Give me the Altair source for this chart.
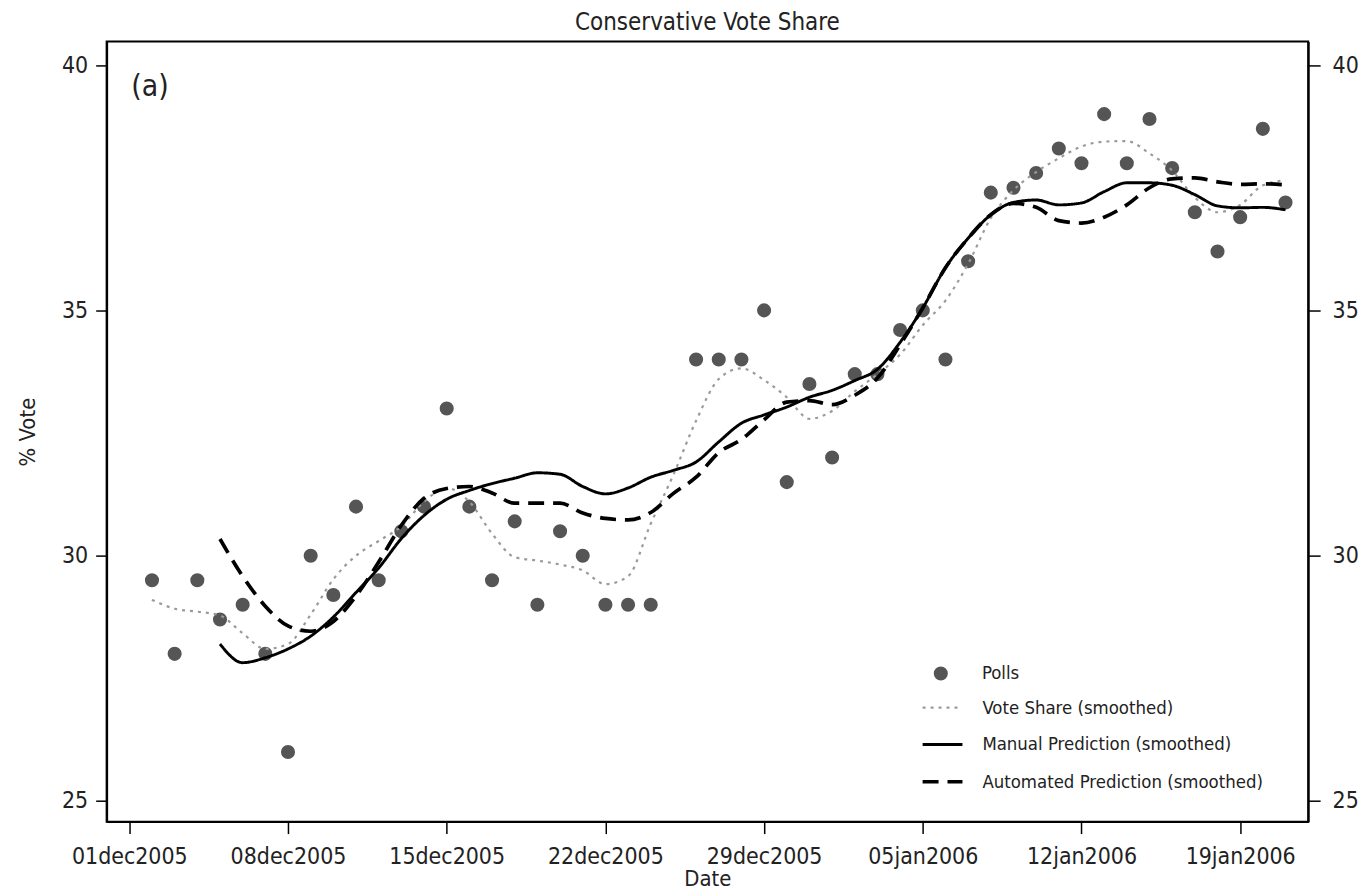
import altair as alt
import pandas as pd

FONT = "'DejaVu Sans Condensed', 'Liberation Sans Narrow', 'DejaVu Sans', sans-serif"

S_POLL = "Polls"
S_VS = "Vote Share (smoothed)"
S_MAN = "Manual Prediction (smoothed)"
S_AUTO = "Automated Prediction (smoothed)"
LINE_SERIES = [S_VS, S_MAN, S_AUTO]
LINE_COLORS = ["#9a9a9a", "#000000", "#000000"]
LINE_DASHES = [[3, 5], [1, 0], [16, 9]]
LINE_WIDTHS = [2.2, 3.7, 3.7]
POLL_COLOR = "#555555"

# Poll points
poll_dates = [
    "2005-12-02", "2005-12-03", "2005-12-04", "2005-12-05", "2005-12-06", "2005-12-07",
    "2005-12-08", "2005-12-09", "2005-12-10", "2005-12-11", "2005-12-12", "2005-12-13",
    "2005-12-14", "2005-12-15", "2005-12-16", "2005-12-17", "2005-12-18", "2005-12-19",
    "2005-12-20", "2005-12-21", "2005-12-22", "2005-12-23", "2005-12-24",
    "2005-12-26", "2005-12-27", "2005-12-28", "2005-12-29", "2005-12-30", "2005-12-31",
    "2006-01-01", "2006-01-02", "2006-01-03", "2006-01-04", "2006-01-05", "2006-01-06",
    "2006-01-07", "2006-01-08", "2006-01-09", "2006-01-10", "2006-01-11", "2006-01-12",
    "2006-01-13", "2006-01-14", "2006-01-15", "2006-01-16", "2006-01-17", "2006-01-18",
    "2006-01-19", "2006-01-20", "2006-01-21",
]
poll_values = [
    29.5, 28.0, 29.5, 28.7, 29.0, 28.0,
    26.0, 30.0, 29.2, 31.0, 29.5, 30.5,
    31.0, 33.0, 31.0, 29.5, 30.7, 29.0,
    30.5, 30.0, 29.0, 29.0, 29.0,
    34.0, 34.0, 34.0, 35.0, 31.5, 33.5,
    32.0, 33.7, 33.7, 34.6, 35.0, 34.0,
    36.0, 37.4, 37.5, 37.8, 38.3, 38.0,
    39.0, 38.0, 38.9, 37.9, 37.0, 36.2,
    36.9, 38.7, 37.2,
]

# Smoothed series, sampled daily (days after 01dec2005)
vs_day_offsets = list(range(1, 52))
vote_share = [
    29.10, 28.92, 28.86, 28.78, 28.42, 28.10, 28.20, 28.80, 29.52, 30.00,
    30.30, 30.60, 31.10, 31.38, 31.10, 30.45, 29.97, 29.90, 29.82, 29.70,
    29.42, 29.58, 30.65, 31.65, 32.75, 33.60, 33.82, 33.58, 33.23, 32.79,
    32.95, 33.35, 33.70, 34.10, 34.70, 35.20, 35.95, 36.88, 37.45, 37.82,
    38.10, 38.34, 38.44, 38.45, 38.20, 37.85, 37.30, 37.00, 37.15, 37.55,
    37.65,
]
pred_day_offsets = list(range(4, 52))
manual_pred = [
    28.20, 27.82, 27.92, 28.10, 28.36, 28.75, 29.25, 29.75, 30.35, 30.82,
    31.15, 31.33, 31.47, 31.58, 31.69, 31.66, 31.41, 31.26, 31.38, 31.60,
    31.74, 31.91, 32.32, 32.70, 32.87, 33.03, 33.23, 33.37, 33.57, 33.80,
    34.35, 35.05, 35.87, 36.47, 36.95, 37.20, 37.25, 37.15, 37.19, 37.42,
    37.60, 37.60, 37.55, 37.36, 37.13, 37.09, 37.10, 37.05,
]
auto_pred = [
    30.34, 29.58, 28.97, 28.57, 28.46, 28.66, 29.18, 29.87, 30.62, 31.17,
    31.37, 31.41, 31.28, 31.07, 31.07, 31.07, 30.87, 30.76, 30.73, 30.88,
    31.27, 31.60, 32.10, 32.37, 32.77, 33.13, 33.16, 33.08, 33.27, 33.62,
    34.30, 35.05, 35.87, 36.47, 36.95, 37.18, 37.10, 36.83, 36.78, 36.90,
    37.15, 37.50, 37.68, 37.70, 37.62, 37.57, 37.58, 37.56,
]

x_tick_dates = ["2005-12-01", "2005-12-08", "2005-12-15", "2005-12-22",
                "2005-12-29", "2006-01-05", "2006-01-12", "2006-01-19"]
x_domain = ["2005-11-30", "2006-01-22"]
y_ticks = [25, 30, 35, 40]
y_domain = [24.58, 40.48]

panel_label = ["(a)"]
panel_label_date = ["2005-12-01T02:00:00"]
panel_label_value = [39.55]


def day_strings(offsets):
    base = pd.Timestamp("2005-12-01")
    return [(base + pd.Timedelta(days=int(d))).strftime("%Y-%m-%dT%H:%M:%S") for d in offsets]


def to_dt(s):
    t = pd.Timestamp(s)
    return alt.DateTime(year=t.year, month=t.month, date=t.day)


polls_df = pd.DataFrame({"date": [d + "T00:00:00" for d in poll_dates],
                         "value": poll_values, "series": S_POLL})
lines_df = pd.concat([
    pd.DataFrame({"date": day_strings(vs_day_offsets), "value": vote_share, "series": S_VS}),
    pd.DataFrame({"date": day_strings(pred_day_offsets), "value": auto_pred, "series": S_AUTO}),
    pd.DataFrame({"date": day_strings(pred_day_offsets), "value": manual_pred, "series": S_MAN}),
], ignore_index=True)
label_df = pd.DataFrame({"date": panel_label_date, "value": panel_label_value, "label": panel_label})

x_axis = alt.Axis(values=[to_dt(d) for d in x_tick_dates],
                  labelExpr="lower(timeFormat(datum.value, '%d%b%Y'))",
                  tickSize=12, labelPadding=12, titlePadding=0, labelFlush=False)
x_enc = alt.X("date:T", title="Date", axis=x_axis,
              scale=alt.Scale(domain=[to_dt(d) for d in x_domain]))
y_scale = alt.Scale(domain=y_domain, nice=False, zero=False)

left_axis = alt.Axis(orient="left", values=y_ticks, tickSize=11, labelPadding=8, titlePadding=22)
right_axis = alt.Axis(orient="right", values=y_ticks, tickSize=12, labelPadding=12)

legend_common = dict(title=None, orient="none", padding=0, labelLimit=600,
                     labelFont=FONT, labelFontSize=18.5, labelColor="#222222")
poll_legend = alt.Legend(legendX=828, legendY=625, symbolSize=200, symbolType="circle",
                         symbolFillColor=POLL_COLOR, symbolStrokeWidth=0, labelOffset=32,
                         **legend_common)
line_legend = alt.Legend(legendX=817, legendY=647, symbolSize=1600, symbolType="stroke",
                         symbolStrokeWidth=4, labelOffset=18, rowPadding=6, **legend_common)

points = alt.Chart(polls_df).mark_point(filled=True, size=200, opacity=1, color=POLL_COLOR).encode(
    x=x_enc,
    y=alt.Y("value:Q", scale=y_scale, axis=left_axis, title="% Vote"),
    shape=alt.Shape("series:N", scale=alt.Scale(domain=[S_POLL], range=["circle"]), legend=poll_legend),
)
lines = alt.Chart(lines_df).mark_line(interpolate="monotone").encode(
    x=x_enc,
    y=alt.Y("value:Q", scale=y_scale, axis=right_axis, title=None),
    color=alt.Color("series:N", scale=alt.Scale(domain=LINE_SERIES, range=LINE_COLORS), legend=line_legend),
    strokeDash=alt.StrokeDash("series:N", scale=alt.Scale(domain=LINE_SERIES, range=LINE_DASHES),
                              legend=line_legend),
    strokeWidth=alt.StrokeWidth("series:N", scale=alt.Scale(domain=LINE_SERIES, range=LINE_WIDTHS),
                                legend=line_legend),
)
label_text = alt.Chart(label_df).mark_text(align="left", baseline="middle", fontSize=30,
                                           font=FONT, color="#222222").encode(
    x=x_enc,
    y=alt.Y("value:Q", scale=y_scale, axis=None),
    text="label:N",
)

chart = alt.layer(points, lines, label_text).resolve_axis(
    y="independent"
).properties(
    width=1206, height=783,
    padding={"left": 99, "top": 32, "right": 50, "bottom": 72},
    autosize=alt.AutoSizeParams(type="none"),
    title=alt.TitleParams("Conservative Vote Share", font=FONT, fontSize=24, fontWeight="normal",
                          anchor="middle", offset=7, color="#222222"),
).configure_view(
    stroke="black", strokeWidth=2
).configure_axis(
    grid=False, domainColor="black", domainWidth=2, tickColor="black", tickWidth=1.5,
    labelFont=FONT, labelFontSize=23, labelColor="#222222",
    titleFont=FONT, titleFontSize=22, titleFontWeight="normal", titleColor="#222222",
)

chart.save("out.html", embed_options={"renderer": "svg", "actions": False})
